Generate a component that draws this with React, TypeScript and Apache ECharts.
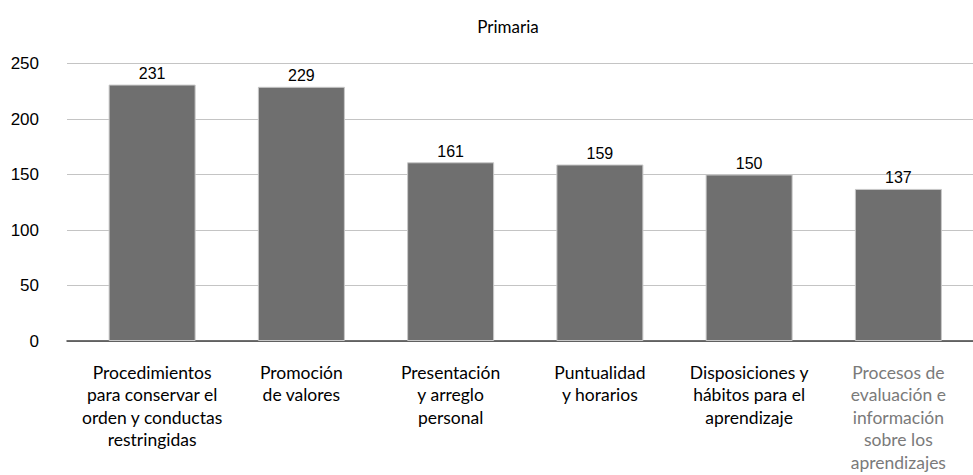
import React, { useEffect, useRef } from "react";
import * as echarts from "echarts";

const title = "Primaria";
const categories = [
  "Procedimientos\npara conservar el\norden y conductas\nrestringidas",
  "Promoción\nde valores",
  "Presentación\ny arreglo\npersonal",
  "Puntualidad\ny horarios",
  "Disposiciones y\nhábitos para el\naprendizaje",
  "Procesos de\nevaluación e\ninformación\nsobre los\naprendizajes",
];
const values = [231, 229, 161, 159, 150, 137];
const yMin = 0;
const yMax = 250;
const yInterval = 50;

export default function App() {
  const ref = useRef<HTMLDivElement>(null);
  useEffect(() => {
    if (!ref.current) return;
    const chart = echarts.init(ref.current, undefined, { renderer: "svg" });
    const top = 63.5;
    const bottom = 134;
    chart.setOption({
      animation: false,
      backgroundColor: "#ffffff",
      title: {
        text: title,
        left: 503,
        top: 13,
        textAlign: "center",
        textStyle: { fontFamily: "Lato", fontSize: 17, fontWeight: "normal", color: "#000" },
      },
      grid: [
        { left: 67, right: 0, top, bottom },
        { left: 77.5, width: 912.6, top, bottom },
      ],
      xAxis: [
        {
          type: "value",
          gridIndex: 0,
          min: 0,
          max: 1,
          axisLine: { show: true, onZero: false, lineStyle: { color: "#404040", width: 1.5 } },
          axisTick: { show: false },
          axisLabel: { show: false },
          splitLine: { show: false },
        },
        {
          type: "category",
          gridIndex: 1,
          data: categories.map((c, i) =>
            i === categories.length - 1 ? { value: c, textStyle: { color: "#7a7a7a" } } : c
          ),
          axisLine: { show: false },
          axisTick: { show: false },
          axisLabel: {
            interval: 0,
            margin: 20,
            fontFamily: "Lato",
            fontSize: 17.5,
            lineHeight: 22.5,
            color: "#000",
          },
        },
      ],
      yAxis: [
        {
          type: "value",
          gridIndex: 0,
          min: yMin,
          max: yMax,
          interval: yInterval,
          axisLine: { show: false },
          axisTick: { show: false },
          axisLabel: { margin: 28, fontFamily: "Liberation Sans", fontSize: 17, color: "#000" },
          splitLine: { lineStyle: { color: "#c4c4c4", width: 1.2 } },
        },
        {
          type: "value",
          gridIndex: 1,
          min: yMin,
          max: yMax,
          interval: yInterval,
          show: false,
          splitLine: { show: false },
        },
      ],
      series: [
        {
          type: "bar",
          xAxisIndex: 1,
          yAxisIndex: 1,
          data: values,
          barWidth: 87,
          itemStyle: { color: "#6f6f6f", borderColor: "#c8c8c8", borderWidth: 1 },
          label: {
            show: true,
            position: "top",
            distance: 3,
            fontFamily: "Liberation Sans",
            fontSize: 16,
            color: "#000",
          },
        },
      ],
    });
    return () => chart.dispose();
  }, []);
  return (
    <div
      ref={ref}
      style={{ position: "fixed", left: 0, top: 0, width: 973, height: 475 }}
    />
  );
}
